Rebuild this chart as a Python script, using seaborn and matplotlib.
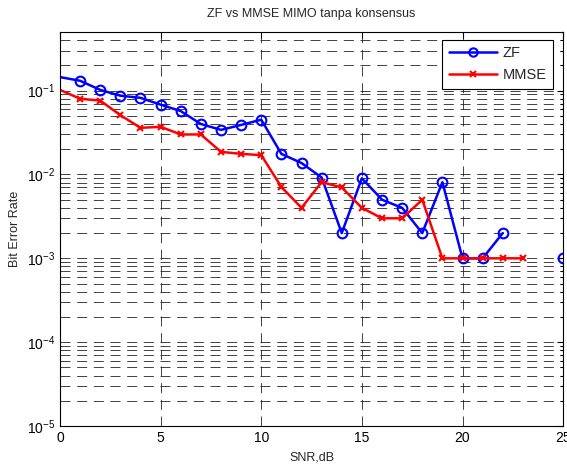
import numpy as np
import pandas as pd
import matplotlib
matplotlib.use("Agg")
import matplotlib.pyplot as plt
from matplotlib.ticker import LogLocator, NullFormatter, MultipleLocator
from matplotlib.lines import Line2D
import seaborn as sns

# data (None = zero errors, not drawn on log axis)
snr = list(range(26))
ber_zf = [0.145, 0.131, 0.102, 0.087, 0.082, 0.068, 0.057, 0.040, 0.034, 0.039,
          0.045, 0.0176, 0.0137, 0.0092, 0.002, 0.009, 0.005, 0.004, 0.002, 0.0081,
          0.001, 0.001, 0.002, None, None, 0.001]
ber_mmse = [0.102, 0.080, 0.076, 0.051, 0.036, 0.037, 0.030, 0.030, 0.0186, 0.0176,
            0.017, 0.0071, 0.0040, 0.0081, 0.0070, 0.0040, 0.0030, 0.0030, 0.005, 0.001,
            0.001, 0.001, 0.001, 0.001, None, None]

title = "ZF vs MMSE MIMO tanpa konsensus"
xlabel = "SNR,dB"
ylabel = "Bit Error Rate"


def to_frame(values):
    df = pd.DataFrame({'snr': snr, 'ber': pd.to_numeric(pd.Series(values), errors='coerce')})
    # break the line where there is no value
    df['seg'] = df['ber'].isna().cumsum()
    return df.dropna()


sns.set_style('white')
plt.rcParams['font.family'] = ['Liberation Sans', 'DejaVu Sans']
plt.rcParams['mathtext.fontset'] = 'custom'
plt.rcParams['mathtext.rm'] = 'Liberation Sans'

fig = plt.figure(figsize=(5.67, 4.68), dpi=100)
ax = fig.add_axes([0.1058, 0.0897, 0.8874, 0.8419])

sns.lineplot(data=to_frame(ber_zf), x='snr', y='ber', units='seg', estimator=None,
             color='blue', lw=1.8, marker='o', markersize=7, mfc='none',
             mec='blue', mew=1.5, ax=ax)
sns.lineplot(data=to_frame(ber_mmse), x='snr', y='ber', units='seg', estimator=None,
             color='red', lw=1.8, marker='x', markersize=4, mec='red', mew=1.5, ax=ax)

# the reference shows no marker on the y axis itself
for ln in ax.get_lines():
    xs = np.asarray(ln.get_xdata())
    ln.set_markevery([i for i, v in enumerate(xs) if v > 0])

ax.set_yscale('log')
ax.set_xlim(0, 25)
ax.set_ylim(1e-5, 0.5)
ax.xaxis.set_major_locator(MultipleLocator(5))
ax.yaxis.set_major_locator(LogLocator(base=10, numticks=10))
ax.yaxis.set_minor_locator(LogLocator(base=10, subs=np.arange(2, 10), numticks=20))
ax.yaxis.set_minor_formatter(NullFormatter())

grid_kw = dict(color='#222222', lw=0.6, linestyle=(0, (12, 8)))
ax.grid(True, which='major', axis='both', **grid_kw)
ax.grid(True, which='minor', axis='y', **grid_kw)
ax.set_axisbelow(True)

ax.tick_params(which='both', direction='in', top=True, right=True, labelsize=10,
               colors='black', width=0.8)
ax.tick_params(which='major', length=4)
ax.tick_params(which='minor', length=2)
for s in ax.spines.values():
    s.set_color('black')
    s.set_linewidth(0.8)

ax.set_title(title, fontsize=9, pad=11)
ax.set_xlabel(xlabel, fontsize=9, labelpad=5)
ax.set_ylabel(ylabel, fontsize=9, labelpad=4)

handles = [
    Line2D([], [], color='blue', lw=1.8, marker='o', markersize=6, mfc='none', mew=1.5),
    Line2D([], [], color='red', lw=1.8, marker='x', markersize=4, mew=1.5),
]
leg = ax.legend(handles, ['ZF', 'MMSE'], loc='upper right', fontsize=10.5,
                frameon=True, fancybox=False, framealpha=1, edgecolor='black',
                handlelength=3.3, handletextpad=0.4, borderpad=0.45, labelspacing=0.55,
                borderaxespad=0, bbox_to_anchor=(0.98, 0.98))
leg.get_frame().set_linewidth(0.8)

fig.savefig('out.png', dpi=100)
